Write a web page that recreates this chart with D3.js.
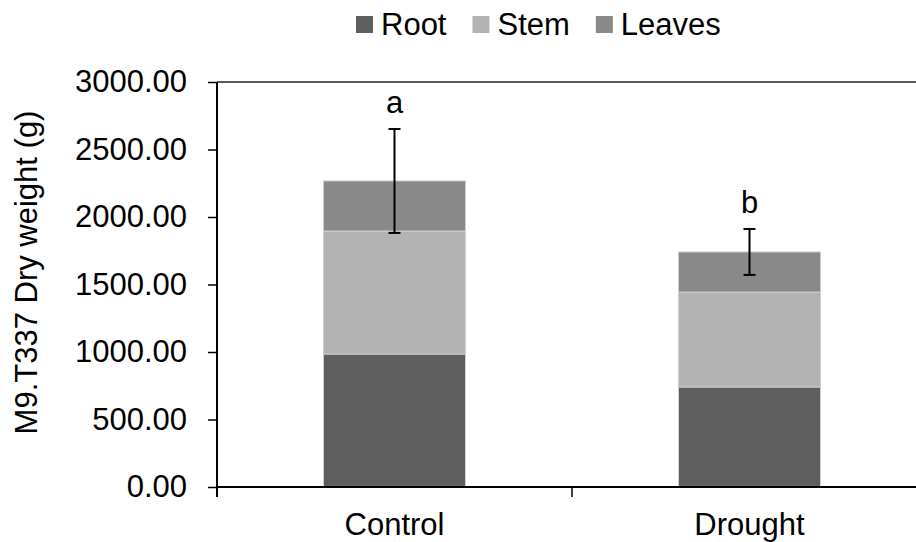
<!DOCTYPE html>
<html>
<head>
    <title>M9.T337 Dry weight</title>
    <script src="https://d3js.org/d3.v7.min.js"></script>
    <style>
        body { margin: 0; background: #fff; }
        svg text { font-family: "Liberation Sans", Arial, sans-serif; fill: #000; }
    </style>
</head>
<body>
    <svg id="chart" width="916" height="542"></svg>
    <script>
        // data
        const categories = ["Control", "Drought"];
        const parts = ["Root", "Stem", "Leaves"];
        const root = [985, 741];
        const stem = [911, 703];
        const leaves = [371, 297];
        const errors = [385, 170];
        const letters = ["a", "b"];
        const yTicks = [0, 500, 1000, 1500, 2000, 2500, 3000];

        const colors = { Root: "#5f5f5f", Stem: "#b3b3b3", Leaves: "#898989" };
        const fontSize = 31;

        const svg = d3.select("#chart");
        const mLeft = 217, mRight = 927, mTop = 82, mBottom = 487;

        const x = d3.scaleBand().domain(categories).range([mLeft, mRight])
            .paddingInner(0.6).paddingOuter(0.3);
        const y = d3.scaleLinear().domain([0, 3000]).range([mBottom, mTop]);

        const rows = categories.map((c, i) => ({ cat: c, Root: root[i], Stem: stem[i], Leaves: leaves[i] }));
        const stacked = d3.stack().keys(parts)(rows);

        // top line at 3000
        svg.append("line").attr("x1", mLeft).attr("x2", mRight)
            .attr("y1", y(3000)).attr("y2", y(3000))
            .attr("stroke", "#222").attr("stroke-width", 1.5);

        // bars
        svg.selectAll("g.layer").data(stacked).enter().append("g")
            .attr("class", "layer").attr("fill", d => colors[d.key])
            .selectAll("rect").data(d => d).enter().append("rect")
            .attr("x", d => x(d.data.cat))
            .attr("y", d => y(d[1]))
            .attr("width", x.bandwidth())
            .attr("height", d => y(d[0]) - y(d[1]))
            .attr("stroke", "#cfcfcf").attr("stroke-width", 1);

        // error bars + letters
        const totals = rows.map(r => r.Root + r.Stem + r.Leaves);
        const eg = svg.append("g").attr("stroke", "#000").attr("stroke-width", 2);
        categories.forEach((c, i) => {
            const cx = x(c) + x.bandwidth() / 2;
            const hi = y(totals[i] + errors[i]), lo = y(totals[i] - errors[i]);
            eg.append("line").attr("x1", cx).attr("x2", cx).attr("y1", hi).attr("y2", lo);
            eg.append("line").attr("x1", cx - 6).attr("x2", cx + 6).attr("y1", hi).attr("y2", hi);
            eg.append("line").attr("x1", cx - 6).attr("x2", cx + 6).attr("y1", lo).attr("y2", lo);
            svg.append("text").attr("x", cx).attr("y", hi - 16)
                .attr("text-anchor", "middle").attr("font-size", fontSize).text(letters[i]);
        });

        // y axis
        const yAxis = svg.append("g").attr("transform", `translate(${mLeft},0)`)
            .call(d3.axisLeft(y).tickValues(yTicks).tickSize(9).tickPadding(21)
                .tickFormat(d3.format(".2f")));
        yAxis.select(".domain").attr("stroke-width", 2)
            .attr("d", `M0,${mTop}V${mBottom + 10}`);
        yAxis.selectAll(".tick line").attr("stroke-width", 1.5);
        yAxis.selectAll(".tick text").attr("font-size", fontSize)
            .attr("font-family", "Liberation Sans, Arial, sans-serif");

        // x axis
        svg.append("line").attr("x1", mLeft).attr("x2", mRight)
            .attr("y1", mBottom).attr("y2", mBottom)
            .attr("stroke", "#000").attr("stroke-width", 2);
        const step = x.step();
        const bounds = categories.slice(1).map(c => x(c) - step * x.paddingInner() / 2);
        svg.selectAll("line.xtick").data(bounds).enter().append("line")
            .attr("class", "xtick")
            .attr("x1", d => d).attr("x2", d => d)
            .attr("y1", mBottom).attr("y2", mBottom + 10)
            .attr("stroke", "#000").attr("stroke-width", 1.5);
        svg.selectAll("text.xlab").data(categories).enter().append("text")
            .attr("class", "xlab")
            .attr("x", d => x(d) + x.bandwidth() / 2).attr("y", 535)
            .attr("text-anchor", "middle").attr("font-size", fontSize).text(d => d);

        // y title
        svg.append("text")
            .attr("transform", `translate(37,${(mTop + mBottom) / 2 - 12}) rotate(-90)`)
            .attr("text-anchor", "middle").attr("font-size", fontSize)
            .text("M9.T337 Dry weight (g)");

        // legend
        const legend = svg.append("g");
        let lx = 356;
        parts.forEach(p => {
            legend.append("rect").attr("x", lx).attr("y", 16).attr("width", 17).attr("height", 17)
                .attr("fill", colors[p]);
            const t = legend.append("text").attr("x", lx + 25).attr("y", 35)
                .attr("font-size", fontSize).text(p);
            lx += 25 + t.node().getComputedTextLength() + 26;
        });
    </script>
</body>
</html>
